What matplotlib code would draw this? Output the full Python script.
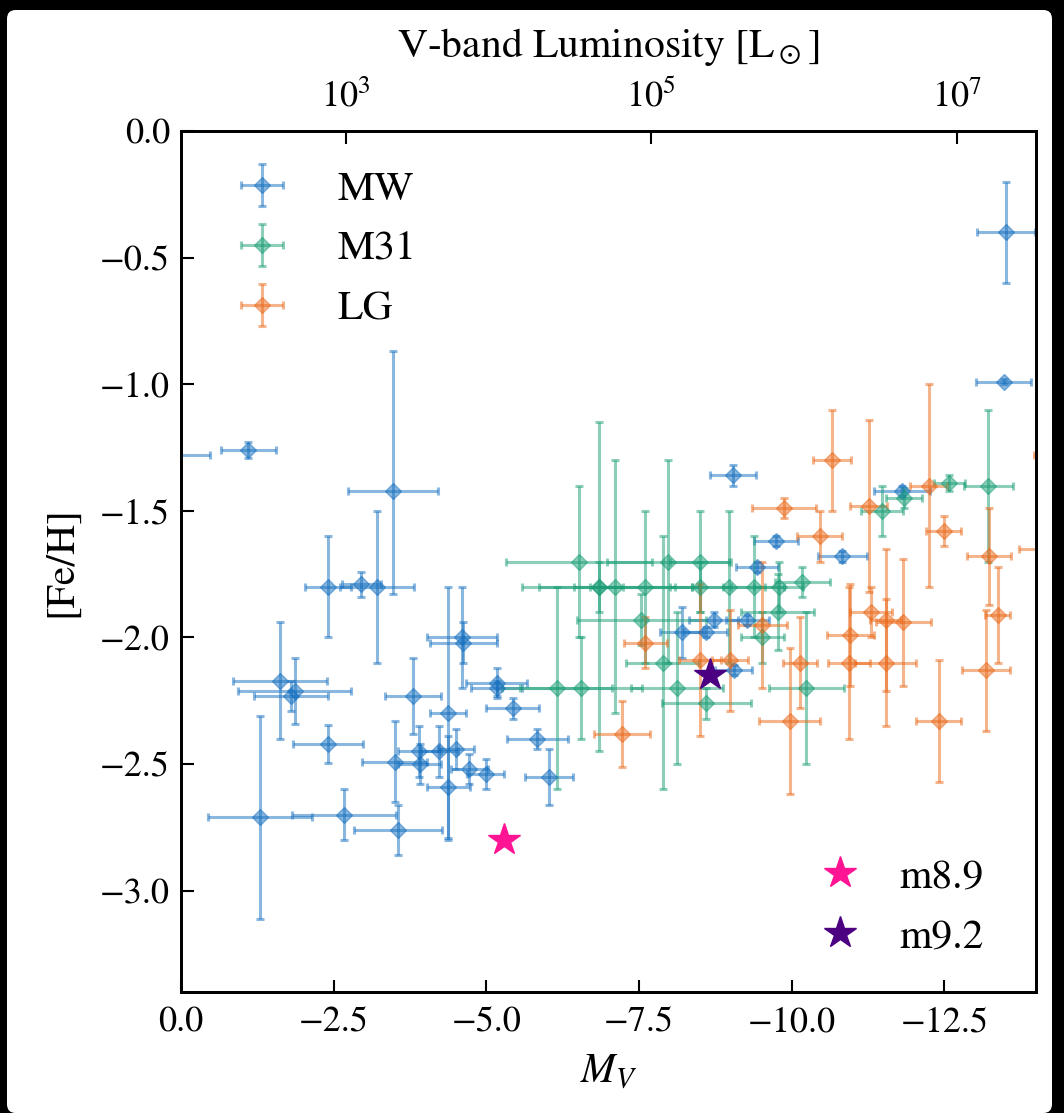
import numpy as np
import matplotlib
matplotlib.use("Agg")
import matplotlib.pyplot as plt
from matplotlib.patches import FancyBboxPatch
from matplotlib.ticker import FuncFormatter

# ---------------- data ----------------
# Milky Way satellites
mw_mv = [0.40, -1.10, -3.47, -2.41, -2.95, -3.21, -1.62, -1.86, -1.80, -3.80,
         -4.37, -4.60, -4.62, -2.41, -1.29, -2.67, -3.55, -3.50, -3.90, -3.91,
         -4.23, -4.50, -4.72, -4.99, -4.38, -5.17, -5.17, -5.43, -5.83, -6.03,
         -9.04, -9.43, -8.72, -9.27, -8.20, -8.59, -9.05, -9.75, -10.83, -11.80,
         -13.51, -13.47]
mw_feh = [-1.28, -1.26, -1.42, -1.80, -1.79, -1.80, -2.17, -2.21, -2.23, -2.23,
          -2.30, -2.00, -2.02, -2.42, -2.71, -2.70, -2.76, -2.49, -2.45, -2.50,
          -2.45, -2.44, -2.52, -2.54, -2.59, -2.18, -2.20, -2.28, -2.40, -2.55,
          -1.36, -1.72, -1.93, -1.93, -1.98, -1.98, -2.13, -1.62, -1.68, -1.42,
          -0.40, -0.99]
mw_mv_err = [0.87, 0.45, 0.74, 0.38, 0.32, 0.60, 0.77, 0.93, 0.60, 0.46,
             0.30, 0.57, 0.55, 0.57, 0.85, 0.85, 0.72, 0.53, 0.35, 0.35,
             0.30, 0.30, 0.30, 0.30, 0.35, 0.50, 0.42, 0.44, 0.50, 0.39,
             0.38, 0.35, 0.40, 0.35, 0.35, 0.35, 0.30, 0.36, 0.40, 0.46,
             0.48, 0.45]
mw_feh_err_lo = [0.02, 0.03, 0.41, 0.20, 0.05, 0.30, 0.23, 0.13, 0.06, 0.15,
                 0.50, 0.20, 0.08, 0.075, 0.40, 0.10, 0.10, 0.16, 0.10, 0.08,
                 0.10, 0.08, 0.06, 0.06, 0.20, 0.06, 0.03, 0.04, 0.04, 0.11,
                 0.04, 0.02, 0.03, 0.02, 0.10, 0.02, 0.02, 0.02, 0.02, 0.02,
                 0.20, 0.01]
mw_feh_err_hi = [0.02, 0.03, 0.55, 0.20, 0.05, 0.30, 0.23, 0.13, 0.06, 0.15,
                 0.50, 0.20, 0.08, 0.075, 0.40, 0.10, 0.10, 0.16, 0.10, 0.08,
                 0.10, 0.08, 0.06, 0.06, 0.20, 0.06, 0.03, 0.04, 0.04, 0.11,
                 0.04, 0.02, 0.03, 0.02, 0.10, 0.02, 0.02, 0.02, 0.02, 0.02,
                 0.20, 0.01]

# M31 satellites
m31_mv = [-6.52, -7.97, -8.50, -6.84, -6.84, -7.11, -7.59, -8.50, -8.97, -9.38,
          -7.54, -7.89, -6.15, -6.55, -8.12, -8.60, -9.77, -10.17, -9.79, -9.52,
          -10.24, -11.48, -11.84, -12.58, -13.22]
m31_feh = [-1.70, -1.70, -1.70, -1.80, -1.80, -1.80, -1.80, -1.80, -1.80, -1.80,
           -1.93, -2.10, -2.20, -2.20, -2.20, -2.26, -1.90, -1.78, -1.80, -2.00,
           -2.20, -1.50, -1.45, -1.39, -1.40]
m31_mv_err = [1.20, 1.00, 0.50, 1.25, 0.40, 1.25, 0.90, 0.50, 0.60, 0.50,
              1.05, 0.60, 0.90, 1.00, 0.75, 0.73, 0.60, 0.45, 0.40, 0.35,
              0.62, 0.35, 0.30, 0.25, 0.40]
m31_feh_err = [0.30, 0.40, 0.20, 0.65, 0.10, 0.50, 0.30, 0.10, 0.30, 0.20,
               0.10, 0.50, 0.40, 0.20, 0.30, 0.06, 0.15, 0.06, 0.10, 0.10,
               0.30, 0.10, 0.04, 0.03, 0.30]

# Other Local Group dwarfs
lg_mv = [-10.66, -9.87, -10.46, -11.26, -12.24, -12.49, -13.23, -14.30, -14.25, -13.37,
         -13.18, -12.41, -11.30, -11.54, -11.83, -10.96, -10.94, -11.54, -10.13, -9.97,
         -9.52, -7.60, -8.50, -8.99, -7.22]
lg_feh = [-1.30, -1.49, -1.60, -1.48, -1.40, -1.58, -1.68, -1.28, -1.65, -1.91,
          -2.13, -2.33, -1.90, -1.93, -1.94, -1.99, -2.10, -2.10, -2.10, -2.33,
          -1.95, -2.02, -2.09, -2.09, -2.38]
lg_mv_err = [0.31, 0.52, 0.37, 0.30, 0.30, 0.29, 0.36, 0.34, 0.53, 0.20,
             0.39, 0.37, 0.34, 0.25, 0.45, 0.39, 0.35, 0.50, 0.28, 0.50,
             0.40, 0.35, 0.35, 0.30, 0.46]
lg_feh_err = [0.20, 0.04, 0.10, 0.34, 0.40, 0.06, 0.19, 0.05, 0.10, 0.19,
              0.24, 0.24, 0.10, 0.28, 0.25, 0.20, 0.30, 0.25, 0.18, 0.29,
              0.25, 0.10, 0.30, 0.20, 0.13]

# simulated galaxies
sim_names = ["m8.9", "m9.2"]
sim_mv = [-5.29, -8.67]
sim_feh = [-2.80, -2.15]
sim_colors = ["#ff1493", "#4b0082"]

lum_ticks = [1e3, 1e5, 1e7]
lum_labels = [r"$10^3$", r"$10^5$", r"$10^7$"]
M_SUN_V = 4.80

# ---------------- style ----------------
plt.rcParams["font.family"] = ["STIXGeneral", "DejaVu Serif"]
plt.rcParams["mathtext.fontset"] = "stix"
plt.rcParams["axes.unicode_minus"] = True

W, H = 1064, 1113
fig = plt.figure(figsize=(W / 100, H / 100), dpi=100)
fig.patch.set_facecolor("black")
bg = FancyBboxPatch((7 / W, 0), (1052 - 7) / W, (H - 10) / H,
                    boxstyle="round,pad=0,rounding_size=0.008",
                    transform=fig.transFigure, facecolor="white",
                    edgecolor="none", zorder=-10)
fig.add_artist(bg)

ax = fig.add_axes([181 / W, 1 - 992 / H, (1036 - 181) / W, (992 - 131) / H])

c_mw = "#1670c0"
c_m31 = "#1b9e77"
c_lg = "#eb6a1a"

eb_kw = dict(fmt="D", ms=8, elinewidth=2.2, capsize=3, capthick=2.2, alpha=0.5)
h_mw = ax.errorbar(mw_mv, mw_feh, xerr=mw_mv_err,
                   yerr=[mw_feh_err_lo, mw_feh_err_hi], color=c_mw,
                   label="MW", **eb_kw)
h_m31 = ax.errorbar(m31_mv, m31_feh, xerr=m31_mv_err, yerr=m31_feh_err,
                    color=c_m31, label="M31", **eb_kw)
h_lg = ax.errorbar(lg_mv, lg_feh, xerr=lg_mv_err, yerr=lg_feh_err,
                   color=c_lg, label="LG", **eb_kw)

star_handles = []
for name, mv, fe, col in zip(sim_names, sim_mv, sim_feh, sim_colors):
    h, = ax.plot([mv], [fe], ls="none", marker="*", ms=24, color=col,
                 label=name, zorder=5)
    star_handles.append(h)


def fmt_minus(v, pos):
    s = f"{v:.1f}"
    return s.replace("-", "\u2212")


ax.set_xlim(0, -14)
ax.set_ylim(-3.4, 0)
ax.set_xticks([0, -2.5, -5, -7.5, -10, -12.5])
ax.set_yticks([0, -0.5, -1, -1.5, -2, -2.5, -3])
ax.xaxis.set_major_formatter(FuncFormatter(fmt_minus))
ax.yaxis.set_major_formatter(FuncFormatter(fmt_minus))
ax.tick_params(direction="in", length=9, width=1.5, labelsize=26)
ax.tick_params(axis="x", pad=10)
ax.tick_params(axis="y", pad=8)
for s in ax.spines.values():
    s.set_linewidth(2)
ax.set_xlabel(r"$M_V$", fontsize=30, labelpad=10)
ax.set_ylabel("[Fe/H]", fontsize=30, labelpad=14)

ax2 = ax.twiny()
ax2.set_xlim(ax.get_xlim())
ax2.set_xticks([M_SUN_V - 2.5 * np.log10(L) for L in lum_ticks])
ax2.set_xticklabels(lum_labels)
ax2.tick_params(direction="in", length=9, width=1.5, labelsize=26, pad=12)
ax2.set_xlabel(r"V-band Luminosity [L$_\odot$]", fontsize=30, labelpad=16)
for s in ax2.spines.values():
    s.set_linewidth(2)

leg1 = ax.legend(handles=[h_mw, h_m31, h_lg], loc="upper left", frameon=False,
                 fontsize=30, handlelength=2.0, handletextpad=0.8,
                 labelspacing=0.52, borderaxespad=0.55)
ax.add_artist(leg1)
ax.legend(handles=star_handles, loc="lower right", frameon=False,
          fontsize=30, handletextpad=0.42, labelspacing=0.52,
          borderaxespad=0.0, bbox_to_anchor=(0.958, 0.022), markerscale=1.0)

fig.savefig("out.png", dpi=100, facecolor=fig.get_facecolor())
